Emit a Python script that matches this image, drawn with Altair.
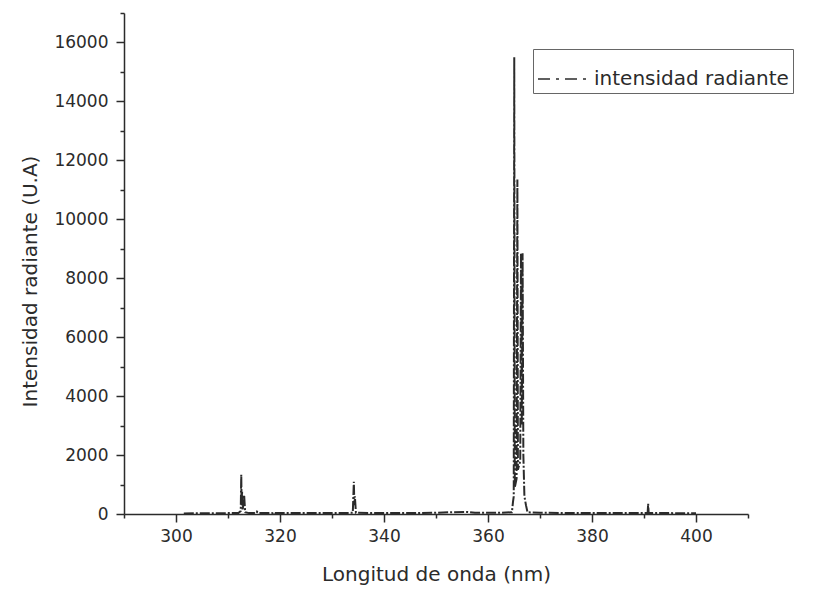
import altair as alt
import pandas as pd

# Spectrum (wavelength in nm, intensity in U.A)
wavelength = [301.5, 305, 310, 312.0, 312.45, 312.55, 312.62, 312.7, 312.8, 313.0, 313.1, 313.3, 314,
              315.5, 315.6, 316, 318.6, 318.7, 319, 325, 330, 334.0, 334.2, 334.3, 334.4, 334.6, 340, 345,
              350, 353, 356, 357.5, 362, 364.6, 364.8, 364.95, 365.05, 365.15, 365.5, 365.65,
              365.75, 366.2, 366.35, 366.5, 366.65, 366.8, 367.0, 367.3, 367.6, 370, 380, 390,
              390.7, 390.8, 390.9, 395, 400]
intensity = [20, 25, 30, 35, 100, 1330, 300, 800, 120, 400, 650, 60, 30,
             30, 80, 30, 30, 60, 30, 30, 30, 40, 1090, 300, 600, 40, 30, 30,
             40, 60, 70, 40, 40, 60, 400, 600, 15500, 900, 1200, 11350,
             1500, 1800, 8850, 3000, 8850, 2000, 600, 300, 60, 40, 30, 30,
             40, 350, 30, 30, 25]
series_name = "intensidad radiante"

x_ticks = list(range(290, 411, 10))
y_ticks = list(range(0, 17001, 1000))

df = pd.DataFrame({"wl": wavelength, "val": intensity, "serie": series_name})

ink = "#2b2b2b"
font = "DejaVu Sans"

chart = alt.Chart(df).mark_line(
    strokeWidth=2, strokeDash=[10, 2, 2, 2]
).encode(
    x=alt.X("wl:Q",
            scale=alt.Scale(domain=[290, 410], nice=False, zero=False),
            axis=alt.Axis(
                values=x_ticks, format="d",
                labelExpr="(datum.value % 20 === 0 && datum.value >= 300 && datum.value <= 400) ? datum.label : ''",
                tickSize={"condition": {"test": "datum.value % 20 === 0", "value": 8}, "value": 4},
                labelPadding=6, labelOverlap=False, grid=False,
                title="Longitud de onda (nm)", titleY=66, titleBaseline="alphabetic",
            )),
    y=alt.Y("val:Q",
            scale=alt.Scale(domain=[0, 17000], nice=False),
            axis=alt.Axis(
                values=y_ticks, format="d",
                labelExpr="(datum.value % 2000 === 0) ? datum.label : ''",
                tickSize={"condition": {"test": "datum.value % 2000 === 0", "value": 8}, "value": 4},
                labelPadding=8, labelOverlap=False, grid=False,
                title="Intensidad radiante (U.A)", titleX=-94, titleY=268,
                titleAngle=270, titleAlign="center", titleBaseline="middle",
            )),
    color=alt.Color("serie:N",
                    scale=alt.Scale(range=[ink]),
                    legend=alt.Legend(
                        title=None, orient="none", legendX=409, legendY=36,
                        strokeColor="#666", padding=4, symbolType="stroke",
                        symbolSize=2500, symbolStrokeWidth=1.5,
                        symbolDash=[12, 6, 3, 6], labelFont=font,
                        labelFontSize=20, labelColor=ink, labelOffset=5,
                        labelLimit=400,
                    )),
).properties(
    width=624, height=501,
    autosize=alt.AutoSizeParams(type="none"),
    padding={"left": 116, "top": 5, "right": 58, "bottom": 77},
).configure_view(
    strokeWidth=0
).configure_axis(
    domainColor=ink, domainWidth=1.5, tickColor=ink, tickWidth=1.5,
    labelColor=ink, labelFont=font, labelFontSize=17,
    titleColor=ink, titleFont=font, titleFontSize=20, titleFontWeight="normal",
)

chart.save("out.html", embed_options={"renderer": "svg", "actions": False})
